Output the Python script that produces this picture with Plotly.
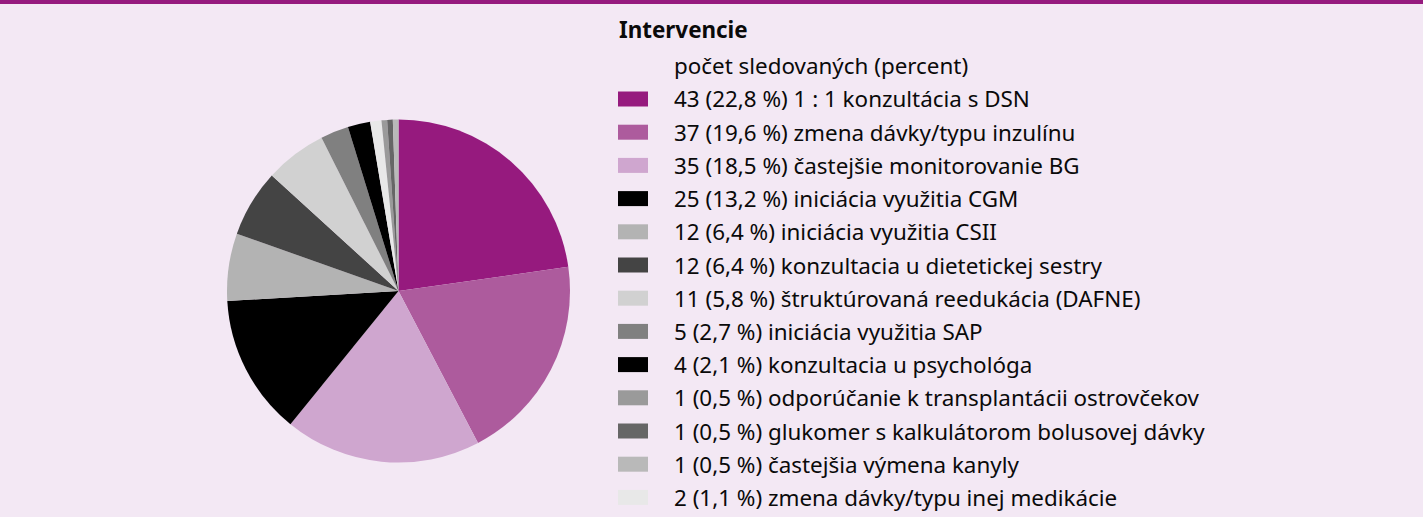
import plotly.graph_objects as go

# ---- data (legend order) ----
labels = [
    "1 : 1 konzultácia s DSN",
    "zmena dávky/typu inzulínu",
    "častejšie monitorovanie BG",
    "iniciácia využitia CGM",
    "iniciácia využitia CSII",
    "konzultacia u dietetickej sestry",
    "štruktúrovaná reedukácia (DAFNE)",
    "iniciácia využitia SAP",
    "konzultacia u psychológa",
    "odporúčanie k transplantácii ostrovčekov",
    "glukomer s kalkulátorom bolusovej dávky",
    "častejšia výmena kanyly",
    "zmena dávky/typu inej medikácie",
]
counts = [43, 37, 35, 25, 12, 12, 11, 5, 4, 1, 1, 1, 2]
percents = ["22,8", "19,6", "18,5", "13,2", "6,4", "6,4", "5,8", "2,7", "2,1", "0,5", "0,5", "0,5", "1,1"]
colors = ["#961a7e", "#ad5b9d", "#cfa6cf", "#000000", "#b3b3b3", "#444444", "#d1d1d1",
          "#808080", "#000000", "#9a9a9a", "#666666", "#b9b9b9", "#e8e8e8"]
# order of slices in the pie (clockwise from 12 o'clock), as indices into the lists above
pie_order = [0, 1, 2, 3, 4, 5, 6, 7, 8, 12, 9, 10, 11]

legend_title = "Intervencie"
legend_subtitle = "počet sledovaných (percent)"

W, H = 1423, 517
BG = "#f3e8f4"
FONT = "Noto Sans"
FS = 22.4

fig = go.Figure()

cx, cy, r = 398.5, 291.0, 171.5
fig.add_trace(go.Pie(
    labels=[labels[i] for i in pie_order],
    values=[counts[i] for i in pie_order],
    marker=dict(colors=[colors[i] for i in pie_order], line=dict(width=0)),
    sort=False,
    direction="clockwise",
    rotation=0,
    textinfo="none",
    hoverinfo="label+value+percent",
    showlegend=False,
    domain=dict(x=[(cx - r) / W, (cx + r) / W], y=[(H - cy - r) / H, (H - cy + r) / H]),
))

def px_x(x):
    return x / W

def px_y(y):
    return 1 - y / H

shapes = []
annotations = []

# top bar
shapes.append(dict(type="rect", xref="paper", yref="paper", x0=0, x1=1,
                   y0=px_y(4), y1=1, fillcolor="#961a7e", line=dict(width=0), layer="above"))

# legend title & subtitle
annotations.append(dict(text="<b>" + legend_title + "</b>", x=px_x(617), y=px_y(30),
                        xref="paper", yref="paper", xanchor="left", yanchor="middle",
                        showarrow=False, font=dict(family=FONT, size=FS, color="#0a0a0a")))
annotations.append(dict(text=legend_subtitle, x=px_x(672), y=px_y(65),
                        xref="paper", yref="paper", xanchor="left", yanchor="middle",
                        showarrow=False, font=dict(family=FONT, size=FS, color="#0a0a0a")))

row0, step = 99.0, 33.2
for i, (lab, c, p, col) in enumerate(zip(labels, counts, percents, colors)):
    yc = row0 + i * step
    shapes.append(dict(type="rect", xref="paper", yref="paper",
                       x0=px_x(618), x1=px_x(648), y0=px_y(yc + 7.5), y1=px_y(yc - 7.5),
                       fillcolor=col, line=dict(width=0)))
    annotations.append(dict(text=f"{c} ({p} %) {lab}", x=px_x(672), y=px_y(yc),
                            xref="paper", yref="paper", xanchor="left", yanchor="middle",
                            showarrow=False, font=dict(family=FONT, size=FS, color="#0a0a0a")))

fig.update_layout(
    width=W, height=H,
    margin=dict(l=0, r=0, t=0, b=0),
    paper_bgcolor=BG, plot_bgcolor=BG,
    shapes=shapes, annotations=annotations,
    font=dict(family=FONT),
)

fig.write_html("out.html", config={"displayModeBar": False},
               post_script="document.body.style.margin='0';document.body.style.overflow='hidden';")
